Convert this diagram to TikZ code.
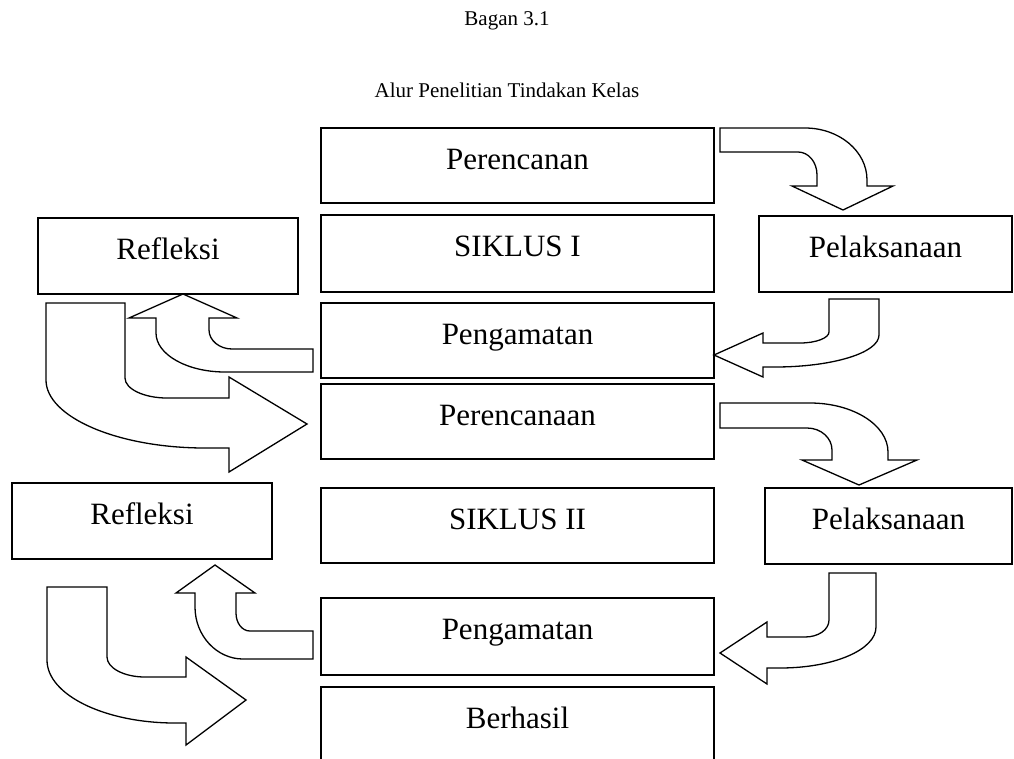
\documentclass[tikz,border=0pt]{standalone}
\usepackage{fontspec}
\setmainfont{Liberation Serif}
\begin{document}
\begin{tikzpicture}[x=1pt,y=-1pt,
  box/.style={draw, line width=1.3pt, inner sep=0pt, align=center,
    font=\fontsize{31}{36}\selectfont, text height=41pt},
  title/.style={inner sep=0pt, anchor=base, font=\fontsize{21}{25}\selectfont},
  blockarrow/.style={draw, line width=1.3pt, fill=white, line join=miter}]
\useasboundingbox (0,0) rectangle (1014,758);

\node[title] (t1) at (507,25) {Bagan 3.1};
\node[title] (t2) at (507,97) {Alur Penelitian Tindakan Kelas};

% centre column
\node[box, minimum width=393pt, text depth=34pt] (p1) at (517.5,165.5) {Perencanan};
\node[box, minimum width=393pt, text depth=36pt] (s1) at (517.5,253.5) {SIKLUS I};
\node[box, minimum width=393pt, text depth=34pt] (g1) at (517.5,340.5) {Pengamatan};
\node[box, minimum width=393pt, text depth=34pt] (p2) at (517.5,421.5) {Perencanaan};
\node[box, minimum width=393pt, text depth=34pt] (s2) at (517.5,525.5) {SIKLUS II};
\node[box, minimum width=393pt, text depth=36pt] (g2) at (517.5,636.5) {Pengamatan};
\node[box, minimum width=393pt, text depth=72pt] (b) at (517.5,743.5) {Berhasil};

% side boxes
\node[box, minimum width=260pt, text depth=35pt] (r1) at (168,256) {Refleksi};
\node[box, minimum width=253pt, text depth=35pt] (l1) at (885.5,254) {Pelaksanaan};
\node[box, minimum width=260pt, text depth=35pt] (r2) at (142,521) {Refleksi};
\node[box, minimum width=247pt, text depth=35pt] (l2) at (888.5,526) {Pelaksanaan};

% A: Perencanan -> Pelaksanaan
\draw[blockarrow] (720,128) -- (805,128) .. controls (839,128) and (867,151) .. (867,180)
  -- (867,186) -- (893,186) -- (843,210) -- (792,186) -- (817,186) -- (817,175)
  .. controls (817,162) and (808.5,152) .. (798,152) -- (720,152) -- cycle;
% B: Pelaksanaan -> Pengamatan
\draw[blockarrow] (829,299) -- (879,299) -- (879,335) .. controls (879,353) and (832,367) .. (775,367)
  -- (763,367) -- (763,377) -- (714,355) -- (763,333) -- (763,343) -- (800,343)
  .. controls (816,343) and (829,338) .. (829,332) -- cycle;
% C: Pengamatan -> Refleksi
\draw[blockarrow] (313,349) -- (232,349) .. controls (219.5,349) and (209,340.5) .. (209,330)
  -- (209,318) -- (237,318) -- (183,294) -- (129,318) -- (156,318) -- (156,333)
  .. controls (156,354.5) and (187,372) .. (225,372) -- (313,372) -- cycle;
% D: Refleksi -> Perencanaan
\draw[blockarrow] (46,303) -- (125,303) -- (125,378) .. controls (125,389) and (144,398) .. (167,398)
  -- (229,398) -- (229,377) -- (307,424) -- (229,472) -- (229,448) -- (205,448)
  .. controls (117.5,448) and (46,417) .. (46,380) -- cycle;
% E: Perencanaan -> Pelaksanaan
\draw[blockarrow] (720,403) -- (810,403) .. controls (853,403) and (888,425) .. (888,452)
  -- (888,460) -- (917,460) -- (859,485) -- (802,460) -- (832,460) -- (832,450)
  .. controls (832,438) and (821,428) .. (807,428) -- (720,428) -- cycle;
% F: Pelaksanaan -> Pengamatan
\draw[blockarrow] (829,573) -- (876,573) -- (876,627) .. controls (876,650) and (833,668) .. (780,668)
  -- (767,668) -- (767,684) -- (720,653) -- (767,622) -- (767,637) -- (805,637)
  .. controls (818,637) and (829,630) .. (829,620) -- cycle;
% G: Pengamatan -> Refleksi
\draw[blockarrow] (313,631) -- (250,631) .. controls (242,631) and (236,623) .. (236,613)
  -- (236,593) -- (255,593) -- (215,565) -- (176,593) -- (195,593) -- (195,607)
  .. controls (195,636) and (217,659) .. (243,659) -- (313,659) -- cycle;
% H: Refleksi -> Berhasil
\draw[blockarrow] (47,587) -- (107,587) -- (107,657) .. controls (107,668) and (124,677) .. (145,677)
  -- (186,677) -- (186,657) -- (246,700) -- (186,745) -- (186,723) -- (175,723)
  .. controls (105,723) and (47,695) .. (47,660) -- cycle;
\end{tikzpicture}
\end{document}
